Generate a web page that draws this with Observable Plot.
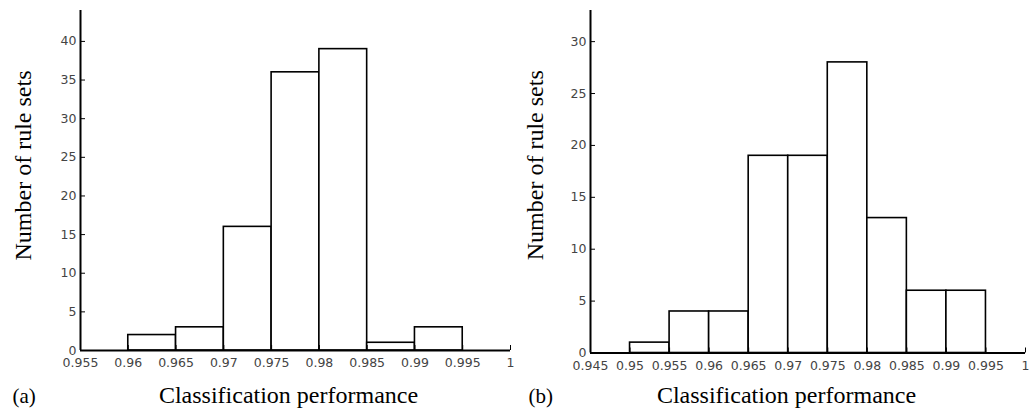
<!DOCTYPE html>
<html><head><meta charset="utf-8">
<script src="https://cdn.jsdelivr.net/npm/d3@7"></script>
<script src="https://cdn.jsdelivr.net/npm/@observablehq/plot@0.6"></script>
<style>
html,body{margin:0;padding:0;background:#fff}
#wrap{display:flex;width:1031px;height:413px;overflow:hidden}
#wrap svg{display:block;flex:none;overflow:visible}
</style></head><body><div id="wrap"></div>
<script>
// Panel (a)
const binStartsA = [0.960, 0.965, 0.970, 0.975, 0.980, 0.985, 0.990];
const countsA = [2, 3, 16, 36, 39, 1, 3];
const xTicksA = [0.955, 0.960, 0.965, 0.970, 0.975, 0.980, 0.985, 0.990, 0.995, 1.000];
const xTickLabelsA = ["0.955", "0.96", "0.965", "0.97", "0.975", "0.98", "0.985", "0.99", "0.995", "1"];
const yTicksA = [0, 5, 10, 15, 20, 25, 30, 35, 40];
const yMaxA = 44;

// Panel (b)
const binStartsB = [0.950, 0.955, 0.960, 0.965, 0.970, 0.975, 0.980, 0.985, 0.990];
const countsB = [1, 4, 4, 19, 19, 28, 13, 6, 6];
const xTicksB = [0.945, 0.950, 0.955, 0.960, 0.965, 0.970, 0.975, 0.980, 0.985, 0.990, 0.995, 1.000];
const xTickLabelsB = ["0.945", "0.95", "0.955", "0.96", "0.965", "0.97", "0.975", "0.98", "0.985", "0.99", "0.995", "1"];
const yTicksB = [0, 5, 10, 15, 20, 25, 30];
const yMaxB = 33;

const binWidth = 0.005;
const xLabel = "Classification performance";
const yLabel = "Number of rule sets";
const panelTags = ["(a)", "(b)"];

const serif = "'Liberation Serif', 'Times New Roman', serif";
const sans = "'DejaVu Sans', sans-serif";

function panel({starts, counts, xTicks, xLabels, yTicks, yMax, tag, width, marginLeft, marginRight, marginBottom, xdx, ydy, ydx, tagdx, labdy}) {
  const data = starts.map((s, i) => ({x1: s, x2: s + binWidth, n: counts[i]}));
  const fmt = d => { const i = xTicks.findIndex(t => Math.abs(t - d) < 1e-9); return i >= 0 ? xLabels[i] : ""; };
  return Plot.plot({
    width, height: 413, marginLeft, marginRight, marginTop: 10, marginBottom,
    x: {domain: [xTicks[0], xTicks[xTicks.length - 1]]},
    y: {domain: [0, yMax]},
    style: {background: "white", fontSize: "12.5px", fontFamily: sans},
    marks: [
      Plot.rectY(data, {x1: "x1", x2: "x2", y: "n", fill: "white", stroke: "black", strokeWidth: 1.6}),
      Plot.ruleX([xTicks[0]], {stroke: "black", strokeWidth: 2}),
      Plot.ruleY([0], {stroke: "black", strokeWidth: 2}),
      Plot.axisY({ticks: yTicks, tickSize: -5, tickPadding: 9, label: null, fill: "#444", stroke: "black", fontFamily: sans, fontSize: 12.5, tickFormat: d => String(d)}),
      Plot.axisX({ticks: xTicks, tickSize: -5, tickPadding: 13, label: null, fill: "#444", stroke: "black", fontFamily: sans, fontSize: 12.5, tickFormat: fmt}),
      Plot.text([yLabel], {frameAnchor: "left", textAnchor: "middle", lineAnchor: "middle", rotate: -90, dx: ydx, dy: ydy, fontFamily: serif, fontSize: 24, fill: "black"}),
      Plot.text([xLabel], {frameAnchor: "bottom", textAnchor: "middle", lineAnchor: "bottom", dx: xdx, dy: labdy, fontFamily: serif, fontSize: 24, fill: "black"}),
      Plot.text([tag], {frameAnchor: "bottom-left", textAnchor: "start", lineAnchor: "bottom", dx: tagdx, dy: labdy, fontFamily: serif, fontSize: 21, fill: "black"})
    ]
  });
}

const wrap = document.getElementById("wrap");
wrap.append(panel({starts: binStartsA, counts: countsA, xTicks: xTicksA, xLabels: xTickLabelsA, yTicks: yTicksA, yMax: yMaxA, tag: panelTags[0],
  width: 515, marginLeft: 80, marginRight: 5, marginBottom: 63, xdx: -7, ydy: -15, ydx: -57.5, tagdx: -68, labdy: 52}));
wrap.append(panel({starts: binStartsB, counts: countsB, xTicks: xTicksB, xLabels: xTickLabelsB, yTicks: yTicksB, yMax: yMaxB, tag: panelTags[1],
  width: 516, marginLeft: 75, marginRight: 6, marginBottom: 60.5, xdx: -21.5, ydy: -16.5, ydx: -55, tagdx: -62, labdy: 49.5}));
</script></body></html>
